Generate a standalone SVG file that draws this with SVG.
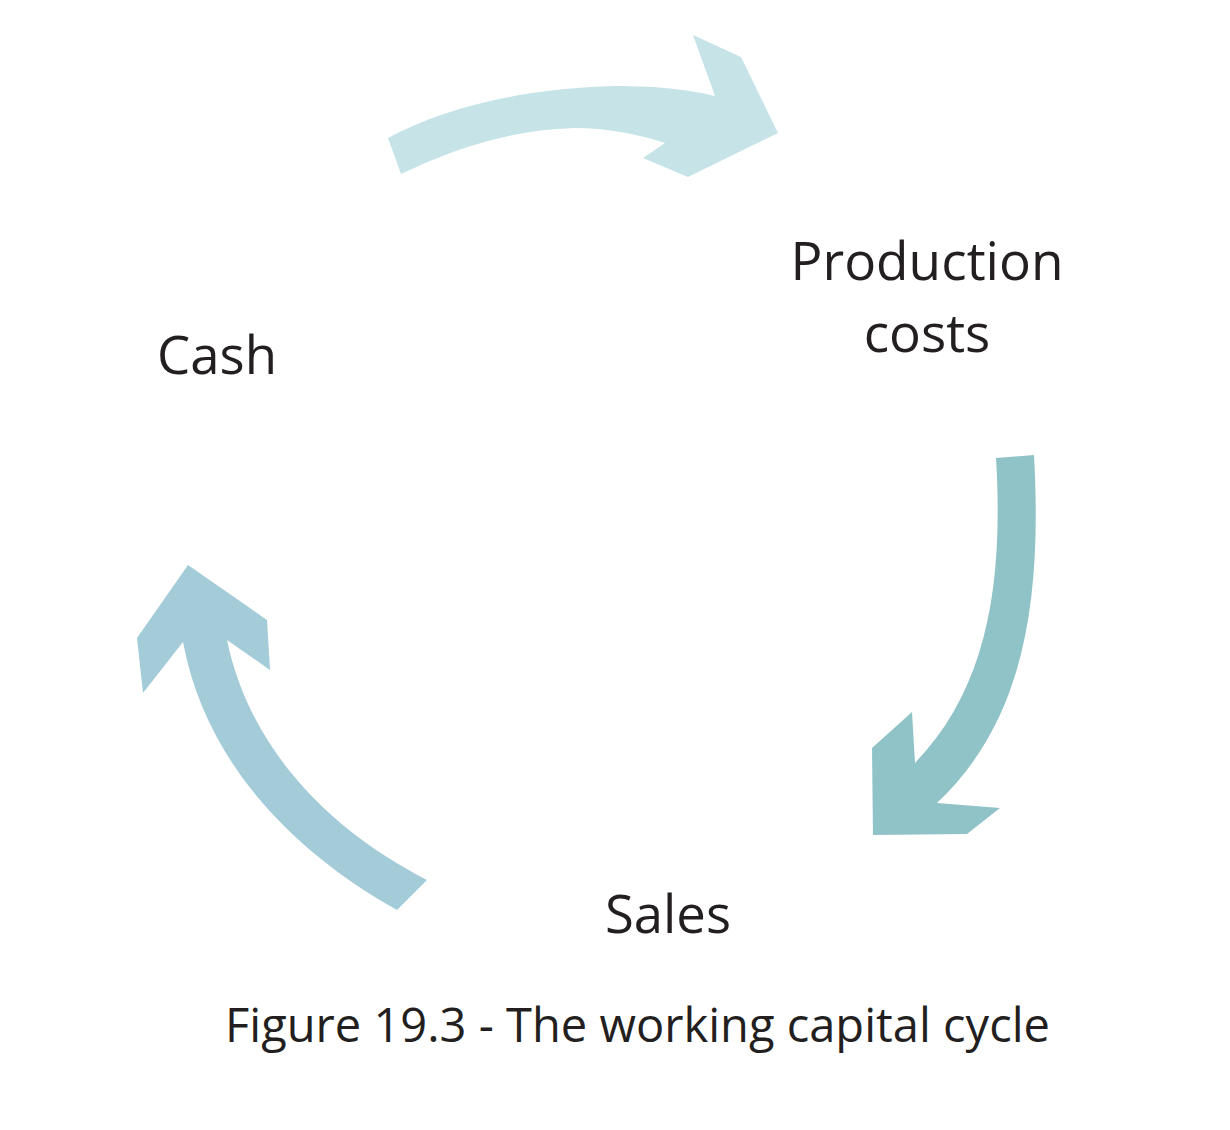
<svg xmlns="http://www.w3.org/2000/svg" width="1230" height="1130" viewBox="0 0 1230 1130">
<style>
.lbl{font-family:"Open Sans","Liberation Sans",sans-serif;fill:#231f20;font-size:53px}
.cap{font-family:"Open Sans","Liberation Sans",sans-serif;fill:#231f20;font-size:47px}
</style>
<rect width="1230" height="1130" fill="#ffffff"/>
<g id="connectors">
<path id="arrow-top" fill="#c6e3e8" d="M388,138 C450,105 530,88 615,86 C660,86 690,90 715,96 L693,35 L741,57 L778,133 L688,177 L643,158 L665,143 C640,135 610,128 575,128 C510,130 455,148 401,174 Z"/>
<path id="arrow-right" fill="#8fc3c8" d="M996,458 L1034,455 C1042,600 1025,720 937,803 L1000,808 L967,834 L873,835 L872,748 L912,712 L915,763 C985,690 1004,590 996,458 Z"/>
<path id="arrow-left" fill="#a3cbd8" d="M427,880 L397,910 C290,850 205,760 183,642 L143,693 L137,638 L188,565 L267,620 L270,670 L227,640 C250,750 330,830 427,880 Z"/>
</g>
<g id="node-production"><text class="lbl" x="927" y="280" text-anchor="middle" textLength="273" lengthAdjust="spacingAndGlyphs">Production</text><text class="lbl" x="927" y="352" text-anchor="middle">costs</text></g>
<g id="node-cash"><text class="lbl" x="157" y="374" textLength="120" lengthAdjust="spacingAndGlyphs">Cash</text></g>
<g id="node-sales"><text class="lbl" x="605" y="933" textLength="126" lengthAdjust="spacingAndGlyphs">Sales</text></g>
<g id="caption"><text class="cap" x="225" y="1042" textLength="825" lengthAdjust="spacingAndGlyphs">Figure 19.3 - The working capital cycle</text></g>
</svg>
